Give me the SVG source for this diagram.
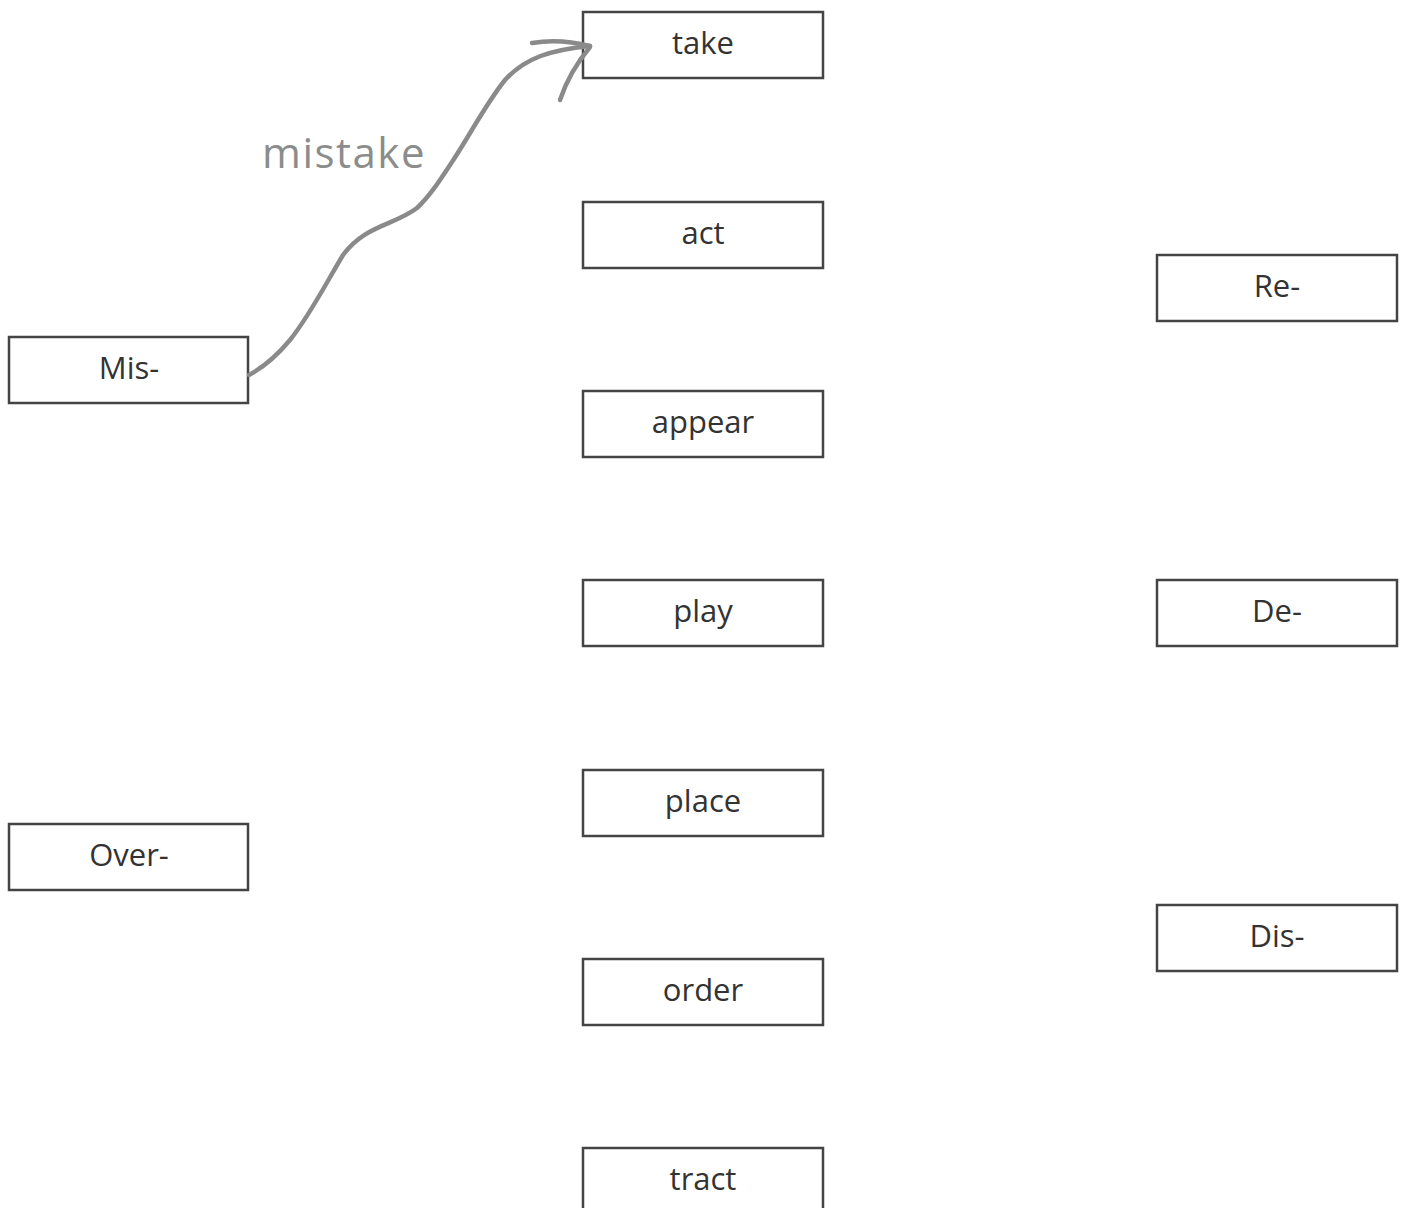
<svg xmlns="http://www.w3.org/2000/svg" width="1404" height="1208" viewBox="0 0 1404 1208">
<style>
.box{fill:#fff;stroke:#444;stroke-width:2.5}
.lbl{font-family:"Open Sans","Noto Sans",sans-serif;font-size:31px;fill:#333;text-anchor:middle}
.conn{fill:none;stroke:#8a8a8a;stroke-width:4.5;stroke-linecap:round;stroke-linejoin:round}
.note{font-family:"Open Sans","Noto Sans",sans-serif;font-size:42px;letter-spacing:1.5px;fill:#8c8c8c}
</style>
<rect width="1404" height="1208" fill="#fff"/>
<g id="take"><rect class="box" x="583" y="12" width="240" height="66"/><text class="lbl" x="703" y="54">take</text></g>
<g id="act"><rect class="box" x="583" y="202" width="240" height="66"/><text class="lbl" x="703" y="244">act</text></g>
<g id="appear"><rect class="box" x="583" y="391" width="240" height="66"/><text class="lbl" x="703" y="433">appear</text></g>
<g id="play"><rect class="box" x="583" y="580" width="240" height="66"/><text class="lbl" x="703" y="622">play</text></g>
<g id="place"><rect class="box" x="583" y="770" width="240" height="66"/><text class="lbl" x="703" y="812">place</text></g>
<g id="order"><rect class="box" x="583" y="959" width="240" height="66"/><text class="lbl" x="703" y="1001">order</text></g>
<g id="tract"><rect class="box" x="583" y="1148" width="240" height="66"/><text class="lbl" x="703" y="1190">tract</text></g>
<g id="mis"><rect class="box" x="9" y="337" width="239" height="66"/><text class="lbl" x="129" y="379">Mis-</text></g>
<g id="over"><rect class="box" x="9" y="824" width="239" height="66"/><text class="lbl" x="129" y="866">Over-</text></g>
<g id="re"><rect class="box" x="1157" y="255" width="240" height="66"/><text class="lbl" x="1277" y="297">Re-</text></g>
<g id="de"><rect class="box" x="1157" y="580" width="240" height="66"/><text class="lbl" x="1277" y="622">De-</text></g>
<g id="dis"><rect class="box" x="1157" y="905" width="240" height="66"/><text class="lbl" x="1277" y="947">Dis-</text></g>
<g id="connectors">
<path class="conn" d="M249,375 C262,368 275,358 290,340 C310,315 325,285 343,255 C365,225 395,225 417,208 C430,196 440,180 452,162 C470,135 485,105 505,80 C525,58 550,50 590,46"/>
<path class="conn" d="M532,43 C550,40 570,41 590,46 M560,100 C565,85 575,65 590,47"/>
<text class="note" x="262" y="168">mistake</text>
</g>
</svg>
